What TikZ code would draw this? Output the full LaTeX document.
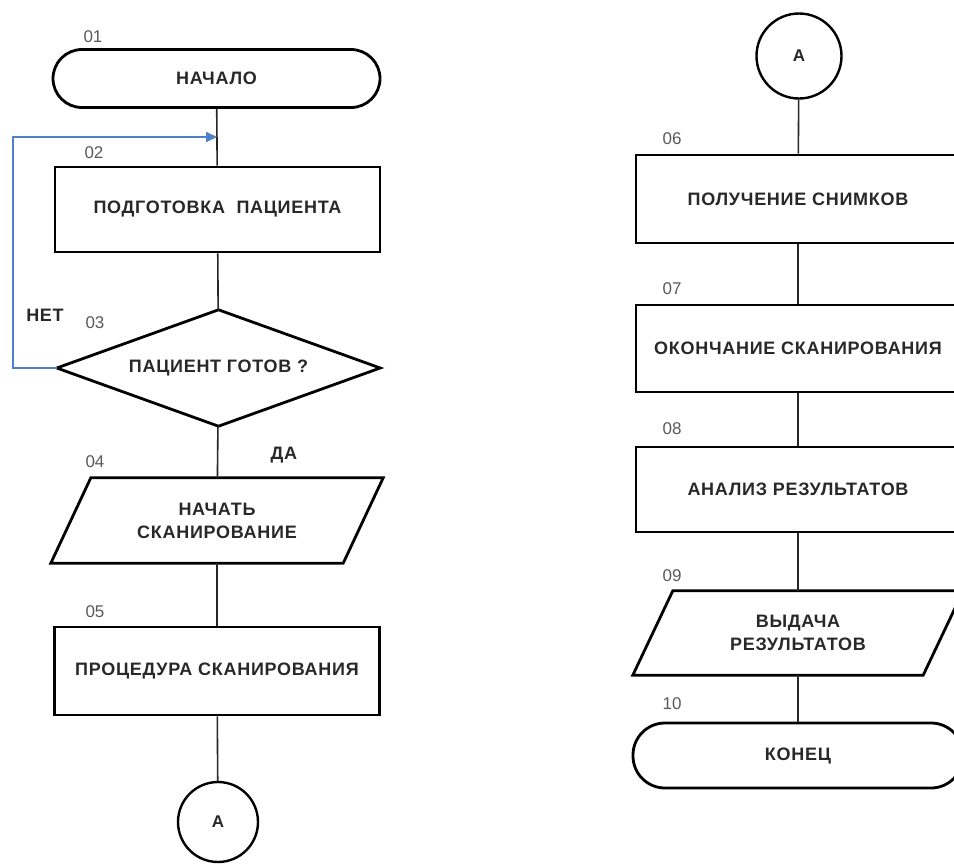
\documentclass[tikz,border=0pt]{standalone}
\usepackage{fontspec}
\setmainfont{Liberation Sans}
\newfontfamily\boxfont[LetterSpace=4]{Liberation Sans}
\usetikzlibrary{arrows.meta,calc}
\definecolor{loopblue}{RGB}{79,129,200}
\definecolor{txt}{RGB}{40,40,40}
\begin{document}
\begin{tikzpicture}[x=1pt,y=-1pt,
  lbl/.style={font=\boxfont\bfseries\fontsize{18}{23}\selectfont, text=txt, align=center},
  box/.style={lbl, draw=black, line width=2.8pt, inner sep=0pt, minimum width=325pt},
  term/.style={box, rounded corners=29pt},
  plain/.style={lbl, inner sep=0pt},
  shapeline/.style={draw=black, line width=2.8pt, line join=miter},
  conn/.style={lbl, draw=black, line width=2.4pt, shape=circle, inner sep=0pt, font=\bfseries\fontsize{17}{19}\selectfont},
  num/.style={font=\fontsize{17}{19}\selectfont, text=black!65, inner sep=0pt},
  link/.style={draw=black!85, line width=1.6pt},
  back/.style={draw=loopblue, line width=2pt, -{Triangle[length=11pt,width=10pt]}}
]
\useasboundingbox (0,0) rectangle (954,865);

% left column
\node[term, minimum width=327pt, minimum height=58pt] (n01) at (216.5,78.5) {НАЧАЛО};
\node[box, minimum height=85pt] (n02) at (217.5,209.5) {ПОДГОТОВКА\ \ ПАЦИЕНТА};
\node[plain, minimum width=323pt, minimum height=116pt] (n03) at (218.5,368) {ПАЦИЕНТ ГОТОВ ?};
\draw[shapeline] (n03.north) -- (n03.east) -- (n03.south) -- (n03.west) -- cycle;
\node[plain, minimum width=292pt, minimum height=85pt] (n04) at (217,520.5) {НАЧАТЬ\\СКАНИРОВАНИЕ};
\draw[shapeline] ([xshift=20pt]n04.north west) -- ([xshift=20pt]n04.north east)
  -- ([xshift=-20pt]n04.south east) -- ([xshift=-20pt]n04.south west) -- cycle;
\node[box, minimum height=88pt] (n05) at (217,671) {ПРОЦЕДУРА СКАНИРОВАНИЯ};
\node[conn, minimum size=80pt] (a1) at (218,822) {А};

\node[num] (l01) at (93,37) {01};
\node[num] (l02) at (94,153) {02};
\node[num] (l03) at (95,323) {03};
\node[num] (l04) at (95,462) {04};
\node[num] (l05) at (95,612) {05};
\node[lbl] (net) at (45,315) {НЕТ};
\node[lbl] (da) at (284,455) {ДА};

\coordinate (j) at (217,137);
\draw[link] (n01) -- (n02);
\draw[link] (n02) -- (n03);
\draw[link] (n03) -- (n04);
\draw[link] (n04) -- (n05);
\draw[link] (n05) -- (a1);
\draw[back] (n03.west) -- ++(-44,0) |- (j);

% right column
\node[conn, minimum size=85pt] (a2) at (799,56) {А};
\node[box, minimum width=324pt, minimum height=88pt] (n06) at (798,199) {ПОЛУЧЕНИЕ СНИМКОВ};
\node[box, minimum width=324pt, minimum height=87pt] (n07) at (798,348.5) {ОКОНЧАНИЕ СКАНИРОВАНИЯ};
\node[box, minimum width=324pt, minimum height=85pt] (n08) at (798,489.5) {АНАЛИЗ РЕЗУЛЬТАТОВ};
\node[plain, minimum width=290pt, minimum height=84pt] (n09) at (798,633) {ВЫДАЧА\\РЕЗУЛЬТАТОВ};
\draw[shapeline] ([xshift=20pt]n09.north west) -- ([xshift=20pt]n09.north east)
  -- ([xshift=-20pt]n09.south east) -- ([xshift=-20pt]n09.south west) -- cycle;
\node[term, minimum width=330pt, minimum height=65pt, rounded corners=32pt] (n10) at (798,755.5) {КОНЕЦ};

\node[num] (l06) at (672,139) {06};
\node[num] (l07) at (672,289) {07};
\node[num] (l08) at (672,429) {08};
\node[num] (l09) at (672,576) {09};
\node[num] (l10) at (672,704) {10};

\draw[link] (a2) -- (n06);
\draw[link] (n06) -- (n07);
\draw[link] (n07) -- (n08);
\draw[link] (n08) -- (n09);
\draw[link] (n09) -- (n10);
\end{tikzpicture}
\end{document}
